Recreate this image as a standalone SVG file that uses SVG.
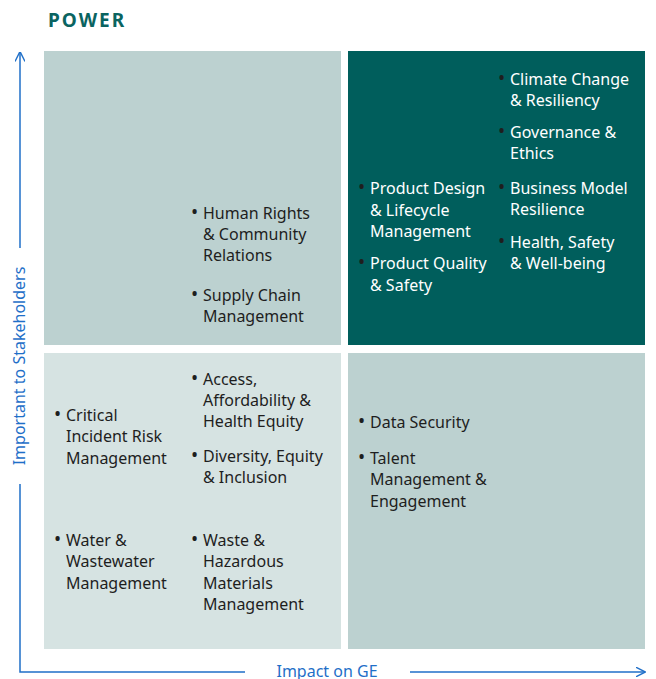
<svg xmlns="http://www.w3.org/2000/svg" width="656" height="679" viewBox="0 0 656 679">
<defs>
<style>
.t{font-family:"Noto Sans","Open Sans",sans-serif;font-size:16px;fill:#1e1e1e}
.w{fill:#ffffff}
.b{font-family:"Noto Sans","Open Sans",sans-serif;font-size:19px;fill:#1e1e1e}
.ax{font-family:"Noto Sans","Open Sans",sans-serif;font-size:16px;fill:#1f6fc8}
.axl{stroke:#1f6fc8;stroke-width:1.5;fill:none}
</style>
<marker id="ah" viewBox="0 0 10 10" refX="9.5" refY="5" markerWidth="10" markerHeight="10" markerUnits="userSpaceOnUse" orient="auto">
<path d="M0,0 L10,5 L0,10" fill="none" stroke="#1f6fc8" stroke-width="1.4"/>
</marker>
</defs>
<rect width="656" height="679" fill="#ffffff"/>
<text x="48" y="27" font-family="Noto Sans, Open Sans, sans-serif" font-size="19" font-weight="bold" letter-spacing="2" fill="#0a6461">POWER</text>

<g id="q-top-left">
<rect x="44" y="51" width="297" height="294" fill="#bcd1d0"/>
<text class="b" x="191" y="219">•</text>
<text class="t" x="203" y="219">Human Rights</text>
<text class="t" x="203" y="240">&amp; Community</text>
<text class="t" x="203" y="261">Relations</text>
<text class="b" x="191" y="301">•</text>
<text class="t" x="203" y="301">Supply Chain</text>
<text class="t" x="203" y="322">Management</text>
</g>

<g id="q-top-right">
<rect x="348" y="51" width="297" height="294" fill="#005e5c"/>
<text class="b w" x="498" y="85">•</text>
<text class="t w" x="510" y="85">Climate Change</text>
<text class="t w" x="510" y="106">&amp; Resiliency</text>
<text class="b w" x="498" y="138">•</text>
<text class="t w" x="510" y="138">Governance &amp;</text>
<text class="t w" x="510" y="159">Ethics</text>
<text class="b w" x="498" y="194">•</text>
<text class="t w" x="510" y="194">Business Model</text>
<text class="t w" x="510" y="215">Resilience</text>
<text class="b w" x="498" y="248">•</text>
<text class="t w" x="510" y="248">Health, Safety</text>
<text class="t w" x="510" y="269">&amp; Well-being</text>
<text class="b w" x="358" y="194">•</text>
<text class="t w" x="370" y="194">Product Design</text>
<text class="t w" x="370" y="216">&amp; Lifecycle</text>
<text class="t w" x="370" y="237">Management</text>
<text class="b w" x="358" y="269">•</text>
<text class="t w" x="370" y="269">Product Quality</text>
<text class="t w" x="370" y="291">&amp; Safety</text>
</g>

<g id="q-bottom-left">
<rect x="44" y="353" width="297" height="296" fill="#d6e3e2"/>
<text class="b" x="54" y="421">•</text>
<text class="t" x="66" y="421">Critical</text>
<text class="t" x="66" y="442">Incident Risk</text>
<text class="t" x="66" y="464">Management</text>
<text class="b" x="54" y="546">•</text>
<text class="t" x="66" y="546">Water &amp;</text>
<text class="t" x="66" y="567">Wastewater</text>
<text class="t" x="66" y="589">Management</text>
<text class="b" x="191" y="385">•</text>
<text class="t" x="203" y="385">Access,</text>
<text class="t" x="203" y="406">Affordability &amp;</text>
<text class="t" x="203" y="427">Health Equity</text>
<text class="b" x="191" y="462">•</text>
<text class="t" x="203" y="462">Diversity, Equity</text>
<text class="t" x="203" y="483">&amp; Inclusion</text>
<text class="b" x="191" y="546">•</text>
<text class="t" x="203" y="546">Waste &amp;</text>
<text class="t" x="203" y="567">Hazardous</text>
<text class="t" x="203" y="589">Materials</text>
<text class="t" x="203" y="610">Management</text>
</g>

<g id="q-bottom-right">
<rect x="348" y="353" width="297" height="296" fill="#bcd1d0"/>
<text class="b" x="358" y="428">•</text>
<text class="t" x="370" y="428">Data Security</text>
<text class="b" x="358" y="464">•</text>
<text class="t" x="370" y="464">Talent</text>
<text class="t" x="370" y="485">Management &amp;</text>
<text class="t" x="370" y="507">Engagement</text>
</g>

<g id="connectors">
<path class="axl" d="M20,248 L20,52" marker-end="url(#ah)"/>
<path class="axl" d="M20,484 L20,672 L245,672"/>
<path class="axl" d="M410,672 L645,672" marker-end="url(#ah)"/>
</g>
<g id="axis-labels">
<text class="ax" x="327" y="677" text-anchor="middle">Impact on GE</text>
<text class="ax" x="0" y="0" text-anchor="middle" transform="translate(25,366) rotate(-90)">Important to Stakeholders</text>
</g>
</svg>
